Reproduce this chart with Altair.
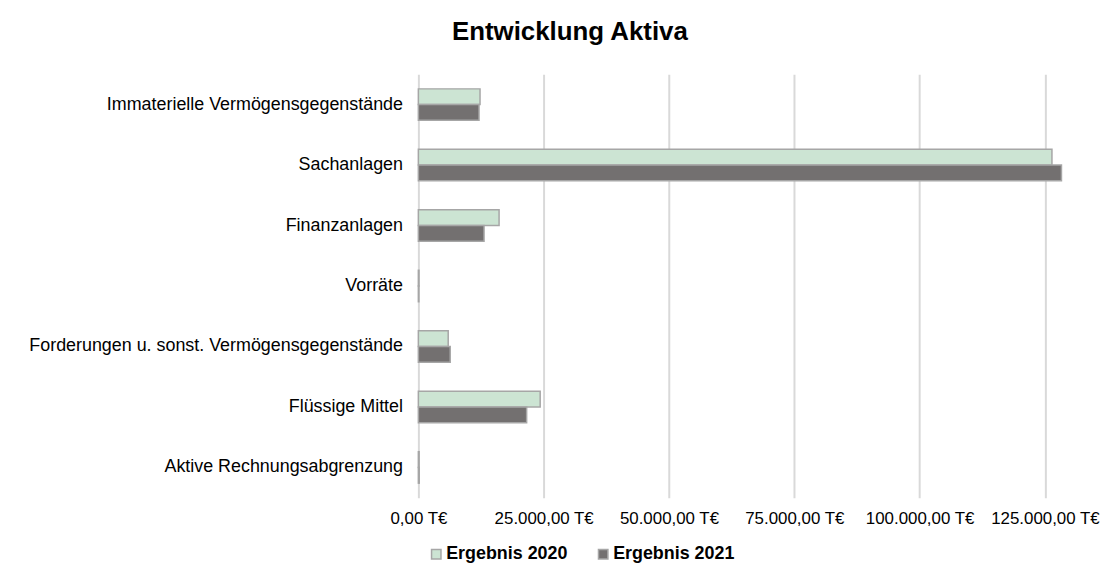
import altair as alt
import pandas as pd

categories = [
    "Immaterielle Vermögensgegenstände",
    "Sachanlagen",
    "Finanzanlagen",
    "Vorräte",
    "Forderungen u. sonst. Vermögensgegenstände",
    "Flüssige Mittel",
    "Aktive Rechnungsabgrenzung",
]
series = ["Ergebnis 2020", "Ergebnis 2021"]
values_2020 = [12300, 126400, 16100, 120, 5950, 24300, 150]
values_2021 = [12100, 128300, 13100, 100, 6350, 21600, 180]
tick_values = [0, 25000, 50000, 75000, 100000, 125000]
colors = ["#CCE4D3", "#737070"]

rows = []
for c, v in zip(categories, values_2020):
    rows.append({"Kategorie": c, "Serie": series[0], "Wert": v})
for c, v in zip(categories, values_2021):
    rows.append({"Kategorie": c, "Serie": series[1], "Wert": v})
df = pd.DataFrame(rows)

FONT = "Liberation Sans, Arial, sans-serif"

label_expr = (
    "replace(replace(replace(format(datum.value, ',.2f'), ',', '#'), '.', ','), '#', '.') + ' T€'"
)

chart = (
    alt.Chart(df)
    .mark_bar(stroke="#A6A6A6", strokeWidth=1.5)
    .encode(
        x=alt.X(
            "Wert:Q",
            scale=alt.Scale(domain=[0, 135000], nice=False, zero=True),
            axis=alt.Axis(
                values=tick_values,
                labelExpr=label_expr,
                grid=True,
                gridColor="#D9D9D9",
                gridWidth=2,
                domain=False,
                ticks=False,
                labelFontSize=17,
                labelFont=FONT,
                labelColor="#000000",
                labelPadding=13,
                labelFlush=False,
                labelOverlap=False,
                title=None,
            ),
        ),
        y=alt.Y(
            "Kategorie:N",
            sort=categories,
            scale=alt.Scale(paddingInner=0.48, paddingOuter=0.24),
            axis=alt.Axis(
                title=None,
                ticks=False,
                domain=False,
                labelFontSize=18,
                labelFont=FONT,
                labelColor="#000000",
                labelPadding=16,
                labelLimit=600,
            ),
        ),
        yOffset=alt.YOffset("Serie:N", sort=series),
        fill=alt.Fill(
            "Serie:N",
            scale=alt.Scale(domain=series, range=colors),
            legend=alt.Legend(
                title=None,
                orient="none",
                direction="horizontal",
                legendX=9,
                legendY=474,
                symbolType="square",
                symbolSize=90,
                symbolStrokeColor="#A6A6A6",
                symbolStrokeWidth=1.5,
                labelFontSize=18,
                labelFont=FONT,
                labelFontWeight="bold",
                labelColor="#000000",
                labelOffset=1,
                columnPadding=26,
                padding=0,
            ),
        ),
    )
    .properties(
        width=681,
        height=426,
        title=alt.TitleParams(
            "Entwicklung Aktiva",
            fontSize=26,
            font=FONT,
            fontWeight="bold",
            color="#000000",
            anchor="middle",
            frame="group",
            dx=-188,
            offset=30,
        ),
        autosize=alt.AutoSizeParams(type="none"),
        padding={"left": 413, "top": 65, "right": 8, "bottom": 67},
    )
    .configure_view(stroke=None)
)

chart.save("out.html", embed_options={"renderer": "svg", "actions": False})
